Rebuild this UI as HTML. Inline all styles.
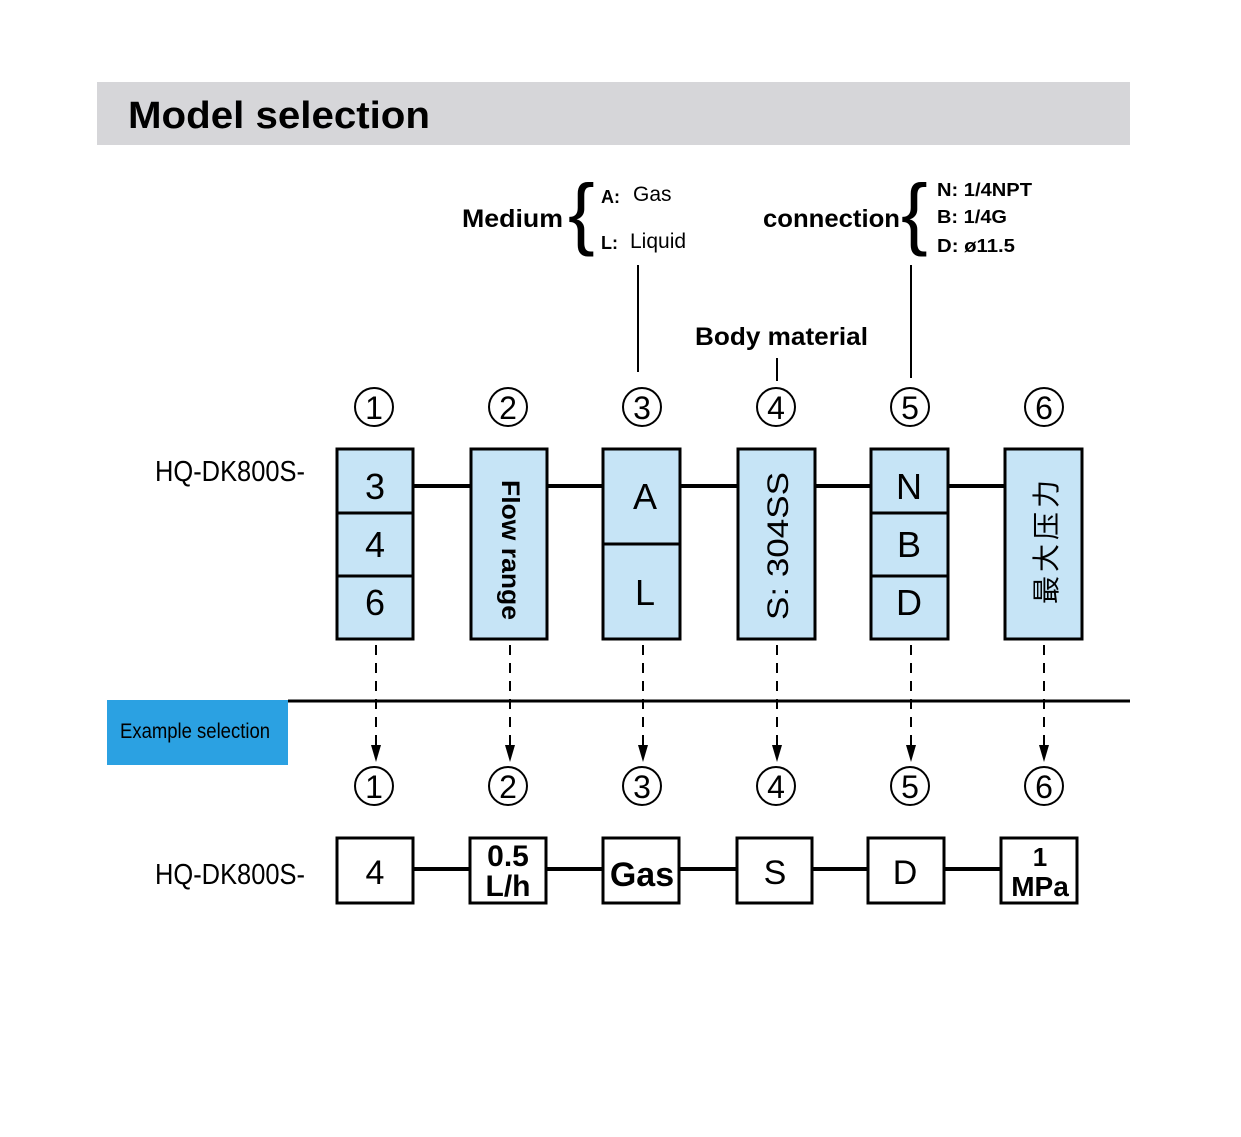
<!DOCTYPE html>
<html><head><meta charset="utf-8"><style>
html,body{margin:0;padding:0;background:#fff;}
svg{display:block;font-family:"Liberation Sans","Noto Sans CJK SC",sans-serif;}
</style></head><body>
<svg width="1241" height="1137" viewBox="0 0 1241 1137" xmlns="http://www.w3.org/2000/svg">
<rect x="97" y="82" width="1033" height="63" fill="#d6d6d9"/>
<text x="128" y="128" font-size="38" font-weight="bold" textLength="302" lengthAdjust="spacingAndGlyphs">Model selection</text>

<!-- Medium -->
<text x="462" y="227" font-size="25" font-weight="bold" textLength="101" lengthAdjust="spacingAndGlyphs">Medium</text>
<text x="568" y="240" font-size="80" font-weight="normal">{</text>
<text x="601" y="203" font-size="18" font-weight="bold">A:</text>
<text x="633" y="201" font-size="21">Gas</text>
<text x="601" y="249" font-size="18" font-weight="bold">L:</text>
<text x="630" y="248" font-size="21">Liquid</text>
<line x1="638" y1="265" x2="638" y2="372" stroke="#000" stroke-width="2"/>

<!-- connection -->
<text x="763" y="227" font-size="25" font-weight="bold" textLength="137" lengthAdjust="spacingAndGlyphs">connection</text>
<text x="901" y="240" font-size="80">{</text>
<text x="937" y="196" font-size="18" font-weight="bold" textLength="95" lengthAdjust="spacingAndGlyphs">N: 1/4NPT</text>
<text x="937" y="223" font-size="18" font-weight="bold" textLength="70" lengthAdjust="spacingAndGlyphs">B: 1/4G</text>
<text x="937" y="252" font-size="18" font-weight="bold" textLength="78" lengthAdjust="spacingAndGlyphs">D: ø11.5</text>
<line x1="911" y1="265" x2="911" y2="378" stroke="#000" stroke-width="2"/>

<text x="695" y="345" font-size="25" font-weight="bold" textLength="173" lengthAdjust="spacingAndGlyphs">Body material</text>
<line x1="777" y1="358" x2="777" y2="381" stroke="#000" stroke-width="2"/>

<!-- circled numbers -->
<g fill="none" stroke="#000" stroke-width="2">
<circle cx="374" cy="407" r="19"/><circle cx="508" cy="407" r="19"/><circle cx="642" cy="407" r="19"/>
<circle cx="776" cy="407" r="19"/><circle cx="910" cy="407" r="19"/><circle cx="1044" cy="407" r="19"/>
<circle cx="374" cy="786" r="19"/><circle cx="508" cy="786" r="19"/><circle cx="642" cy="786" r="19"/>
<circle cx="776" cy="786" r="19"/><circle cx="910" cy="786" r="19"/><circle cx="1044" cy="786" r="19"/>
</g>
<g font-size="32" text-anchor="middle">
<text x="374" y="419">1</text><text x="508" y="419">2</text><text x="642" y="419">3</text>
<text x="776" y="419">4</text><text x="910" y="419">5</text><text x="1044" y="419">6</text>
<text x="374" y="798">1</text><text x="508" y="798">2</text><text x="642" y="798">3</text>
<text x="776" y="798">4</text><text x="910" y="798">5</text><text x="1044" y="798">6</text>
</g>

<text x="155" y="481" font-size="29" textLength="150" lengthAdjust="spacingAndGlyphs">HQ-DK800S-</text>

<line x1="413" y1="486" x2="1005" y2="486" stroke="#000" stroke-width="4"/>
<g fill="#c6e4f6" stroke="#000" stroke-width="3">
<rect x="337" y="449" width="76" height="190"/>
<rect x="471" y="449" width="76" height="190"/>
<rect x="603" y="449" width="77" height="190"/>
<rect x="738" y="449" width="77" height="190"/>
<rect x="871" y="449" width="77" height="190"/>
<rect x="1005" y="449" width="77" height="190"/>
</g>
<g stroke="#000" stroke-width="3">
<line x1="337" y1="513" x2="413" y2="513"/><line x1="337" y1="576" x2="413" y2="576"/>
<line x1="603" y1="544" x2="680" y2="544"/>
<line x1="871" y1="513" x2="948" y2="513"/><line x1="871" y1="576" x2="948" y2="576"/>
</g>
<g font-size="36" text-anchor="middle">
<text x="375" y="499">3</text><text x="375" y="557">4</text><text x="375" y="615">6</text>
<text x="645" y="509">A</text><text x="645" y="605">L</text>
<text x="909" y="499">N</text><text x="909" y="557">B</text><text x="909" y="615">D</text>
</g>
<text transform="translate(502,550) rotate(90)" font-size="25" font-weight="bold" text-anchor="middle" textLength="140" lengthAdjust="spacingAndGlyphs">Flow range</text>
<text transform="translate(788,546) rotate(-90)" font-size="30" text-anchor="middle" textLength="148" lengthAdjust="spacingAndGlyphs">S: 304SS</text>
<text transform="translate(1056,542) rotate(-90)" font-size="28" text-anchor="middle" textLength="124" lengthAdjust="spacing">最大压力</text>

<g stroke="#000" stroke-width="2" stroke-dasharray="10,8">
<line x1="376" y1="645" x2="376" y2="745"/><line x1="510" y1="645" x2="510" y2="745"/>
<line x1="643" y1="645" x2="643" y2="745"/><line x1="777" y1="645" x2="777" y2="745"/>
<line x1="911" y1="645" x2="911" y2="745"/><line x1="1044" y1="645" x2="1044" y2="745"/>
</g>
<g fill="#000">
<polygon points="371,745 381,745 376,762"/><polygon points="505,745 515,745 510,762"/>
<polygon points="638,745 648,745 643,762"/><polygon points="772,745 782,745 777,762"/>
<polygon points="906,745 916,745 911,762"/><polygon points="1039,745 1049,745 1044,762"/>
</g>
<line x1="288" y1="701" x2="1130" y2="701" stroke="#000" stroke-width="3"/>
<rect x="107" y="700" width="181" height="65" fill="#2ba1e2"/>
<text x="120" y="738" font-size="21" textLength="150" lengthAdjust="spacingAndGlyphs">Example selection</text>

<text x="155" y="884" font-size="29" textLength="150" lengthAdjust="spacingAndGlyphs">HQ-DK800S-</text>
<line x1="413" y1="869" x2="1001" y2="869" stroke="#000" stroke-width="4"/>
<g fill="#fff" stroke="#000" stroke-width="3">
<rect x="337" y="838" width="76" height="65"/>
<rect x="470" y="838" width="76" height="65"/>
<rect x="603" y="838" width="76" height="65"/>
<rect x="737" y="838" width="75" height="65"/>
<rect x="868" y="838" width="76" height="65"/>
<rect x="1001" y="838" width="76" height="65"/>
</g>
<g text-anchor="middle" font-weight="bold">
<text x="375" y="884" font-size="34" font-weight="normal">4</text>
<text x="508" y="866" font-size="30">0.5</text>
<text x="508" y="896" font-size="30">L/h</text>
<text x="642" y="886" font-size="34">Gas</text>
<text x="775" y="884" font-size="34" font-weight="normal">S</text>
<text x="905" y="884" font-size="34" font-weight="normal">D</text>
<text x="1040" y="866" font-size="26">1</text>
<text x="1040" y="896" font-size="28">MPa</text>
</g>
</svg>
</body></html>
